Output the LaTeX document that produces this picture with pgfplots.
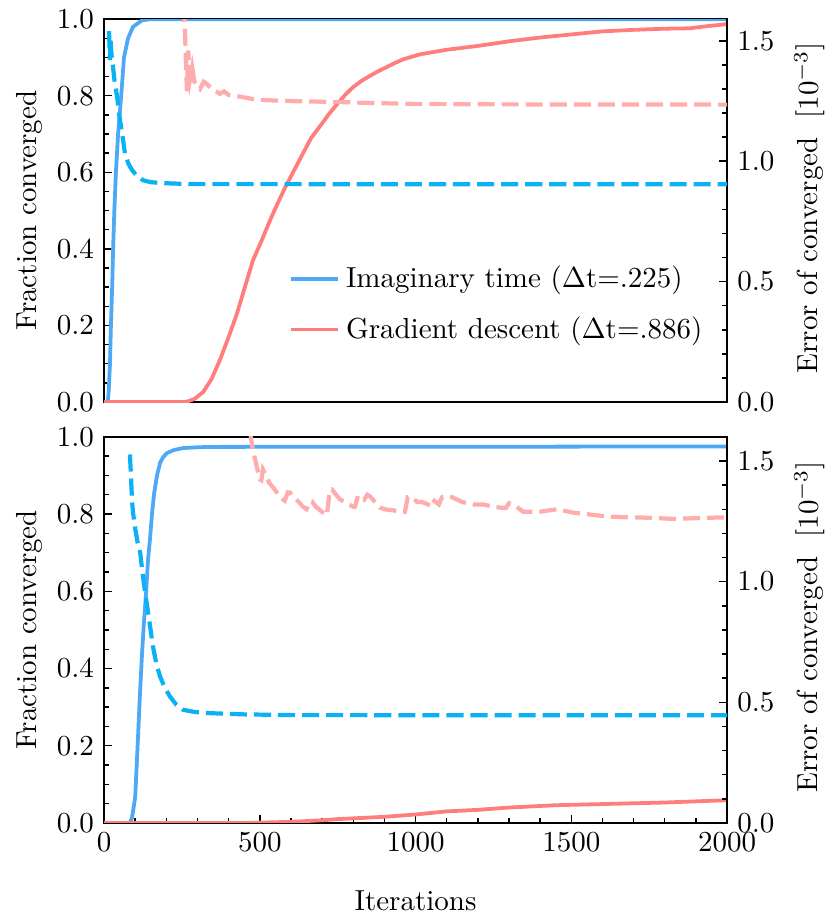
\documentclass[border=0pt]{standalone}
\usepackage{pgfplots}
\pgfplotsset{compat=1.18}
\definecolor{itblue}{RGB}{77,168,246}
\definecolor{itcyan}{RGB}{10,178,245}
\definecolor{gdred}{RGB}{255,125,125}
\definecolor{gdlight}{RGB}{255,172,172}
\pgfplotsset{
  common/.style={
    scale only axis, width=214.9pt, xmin=0, xmax=2000,
    major tick length=2.8pt, minor tick length=1.7pt,
    tick align=inside, axis line style={line width=0.5pt},
    every tick/.style={black, line width=0.5pt},
    tick label style={font=\normalsize},
    label style={font=\normalsize},
    xticklabel style={/pgf/number format/.cd, set thousands separator={}},
  },
  leftax/.style={common,
    ymin=0, ymax=1, ytick={0,0.2,0.4,0.6,0.8,1.0}, minor y tick num=3,
    ytick pos=left, ylabel={Fraction converged},
    ylabel style={xshift=0pt, yshift=-2pt},
    yticklabel style={/pgf/number format/.cd, fixed, fixed zerofill, precision=1},
  },
  rightax/.style={common,
    ytick={0,0.5,1.0,1.5,2.0}, minor y tick num=4,
    axis y line*=right, axis x line=none,
    ylabel={Error of converged\ \ [$10^{-3}$]},
    ylabel style={xshift=1pt},
    yticklabel style={/pgf/number format/.cd, fixed, fixed zerofill, precision=1},
  },
  solidline/.style={line width=1.3pt},
  dashline/.style={line width=1.45pt, dash pattern=on 5.9pt off 2.4pt},
}
\begin{document}
\begin{tikzpicture}
% ---------------- TOP PANEL ----------------
\begin{axis}[leftax, at={(0pt,0pt)}, anchor=south west, height=132.1pt,
  xtick=\empty, minor x tick num=0,
  legend style={draw=none, fill=none, at={(0.633,0.256)}, anchor=center,
    font=\normalsize, row sep=4.5pt,
    /tikz/every even column/.append style={column sep=5.5pt}},
  legend cell align=left,
  legend image code/.code={\draw[#1] (0pt,0pt) -- (16.5pt,0pt);},
]
\addplot[itblue, solidline] coordinates {
(0,0) (12,0) (15,0.03) (19,0.1) (22,0.2) (26,0.3) (29,0.4) (33,0.5) (38,0.6)
(45,0.7) (55,0.8) (64,0.9) (77,0.95) (93,0.98) (122,0.997) (150,1) (2000,1)};
\addlegendentry{Imaginary time ($\Delta$t=.225)}
\addplot[gdred, solidline] coordinates {
(0,0) (255,0) (270,0.002) (290,0.008) (318,0.026) (345,0.06) (372,0.11) (400,0.17)
(427,0.232) (452,0.3) (478,0.37) (505,0.42) (533,0.475) (558,0.52) (581,0.56)
(610,0.605) (639,0.65) (665,0.69) (693,0.72) (720,0.75) (748,0.778) (775,0.803)
(799,0.822) (825,0.838) (854,0.852) (880,0.864) (908,0.875) (935,0.886) (960,0.895)
(1014,0.908) (1100,0.92) (1200,0.93) (1300,0.942) (1400,0.952) (1500,0.96)
(1600,0.968) (1700,0.972) (1800,0.975) (1880,0.976) (1940,0.982) (2000,0.987)};
\addlegendentry{Gradient descent ($\Delta$t=.886)}
\end{axis}
\begin{axis}[rightax, at={(0pt,0pt)}, anchor=south west, height=132.1pt,
  ymin=0, ymax=1.59]
\addplot[itcyan, dashline] coordinates {
(16,1.54) (18,1.45) (19,1.42) (21,1.50) (24,1.44) (28,1.40) (33,1.34) (42,1.266)
(50,1.18) (58,1.116) (67,1.033) (78,0.99) (90,0.963) (105,0.94) (125,0.921)
(150,0.913) (189,0.909) (276,0.905) (2000,0.904)};
\addplot[gdlight, dashline] coordinates {
(254,1.75) (258,1.6) (262,1.45) (266,1.29) (270,1.46) (276,1.34) (283,1.39)
(290,1.33) (300,1.31) (308,1.30) (320,1.33) (331,1.32) (345,1.30) (360,1.29)
(372,1.28) (385,1.29) (400,1.275) (427,1.27) (450,1.265) (478,1.258) (530,1.253)
(587,1.25) (660,1.248) (748,1.246) (850,1.242) (1014,1.2375) (1300,1.236) (2000,1.235)};
\end{axis}
% ---------------- BOTTOM PANEL ----------------
\begin{axis}[leftax, at={(0pt,-145.2pt)}, anchor=south west, height=133.2pt,
  xtick={0,500,1000,1500,2000}, minor x tick num=4, xtick pos=bottom,
  xlabel={Iterations}, xlabel style={yshift=-6.5pt}]
\addplot[itblue, solidline] coordinates {
(0,0) (83,0) (90,0.015) (100,0.067) (109,0.223) (115,0.33) (122,0.44) (128,0.52)
(135,0.596) (141,0.68) (148,0.741) (155,0.81) (161,0.855) (170,0.9) (180,0.933)
(190,0.948) (202,0.958) (225,0.966) (254,0.971) (300,0.973) (340,0.974) (2000,0.975)};
\addplot[gdred, solidline] coordinates {
(0,0) (450,0) (500,0.001) (550,0.002) (600,0.003) (650,0.005) (700,0.007) (750,0.01)
(800,0.012) (850,0.014) (900,0.016) (950,0.019) (1000,0.022) (1050,0.026) (1100,0.03)
(1150,0.032) (1200,0.034) (1250,0.037) (1300,0.04) (1350,0.042) (1400,0.044)
(1450,0.046) (1500,0.047) (1600,0.049) (1700,0.051) (1800,0.053) (1900,0.056) (2000,0.059)};
\end{axis}
\begin{axis}[rightax, at={(0pt,-145.2pt)}, anchor=south west, height=133.2pt,
  ymin=0, ymax=1.6]
\addplot[itcyan, dashline] coordinates {
(83,1.527) (86,1.45) (90,1.33) (93,1.286) (100,1.22) (108,1.16) (116,1.12) (124,1.03)
(132,0.954) (145,0.84) (157,0.73) (168,0.66) (180,0.606) (195,0.56) (212,0.523)
(232,0.49) (254,0.469) (290,0.46) (340,0.455) (450,0.45) (600,0.447) (2000,0.446)};
\addplot[gdlight, dashline] coordinates {
(469,1.62) (477,1.55) (485,1.506) (493,1.46) (501,1.423) (505,1.42) (510,1.465)
(520,1.44) (530,1.41) (543,1.39) (560,1.36) (575,1.34) (580,1.335) (590,1.37)
(597,1.369) (610,1.35) (625,1.33) (639,1.31) (650,1.30) (660,1.33) (668,1.332)
(680,1.31) (695,1.295) (709,1.278) (715,1.275) (725,1.38) (732,1.382) (745,1.36)
(758,1.34) (780,1.325) (800,1.31) (806,1.311) (815,1.355) (822,1.353) (835,1.34)
(845,1.36) (854,1.353) (870,1.33) (886,1.307) (900,1.30) (930,1.295) (960,1.29)
(966,1.29) (975,1.35) (989,1.35) (1005,1.33) (1021,1.33) (1040,1.32) (1048,1.345)
(1060,1.335) (1075,1.32) (1085,1.35) (1100,1.355) (1117,1.35) (1150,1.33) (1185,1.32)
(1217,1.32) (1250,1.31) (1271,1.307) (1290,1.305) (1300,1.325) (1320,1.315)
(1345,1.29) (1400,1.29) (1454,1.30) (1506,1.286) (1560,1.278) (1615,1.27)
(1670,1.267) (1721,1.266) (1780,1.263) (1827,1.26) (1900,1.263) (1978,1.266) (2000,1.265)};
\end{axis}
\pgfresetboundingbox
\path[use as bounding box] (-35.9pt,138.7pt) rectangle (249.1pt,-176.6pt);
\end{tikzpicture}
\end{document}
